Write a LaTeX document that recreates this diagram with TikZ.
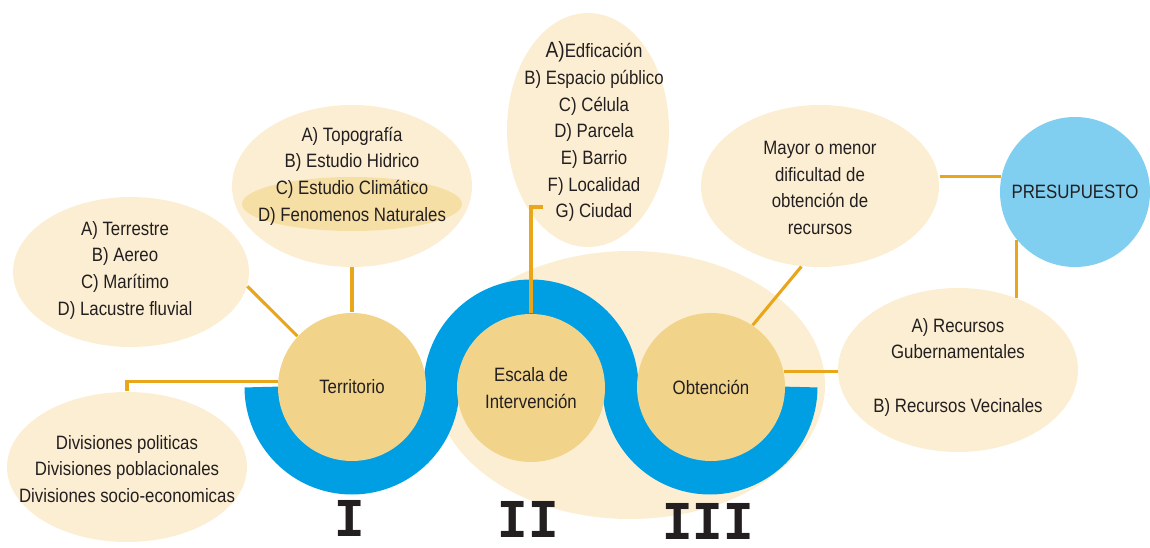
\documentclass[tikz,border=0pt]{standalone}
\usepackage{fontspec}
\setmainfont{Liberation Sans}[FakeStretch=0.87]
\newfontfamily\numfont{Liberation Mono}
\usetikzlibrary{shapes.geometric}

\definecolor{creamlight}{RGB}{252,238,210}
\definecolor{creamband}{RGB}{246,223,165}
\definecolor{stagefill}{RGB}{242,211,138}
\definecolor{waveblue}{RGB}{0,159,227}
\definecolor{skyblue}{RGB}{128,206,240}
\definecolor{connorange}{RGB}{234,166,27}
\definecolor{inktext}{RGB}{35,31,32}

\tikzset{every picture/.style={line width=0.75pt},
  bubble/.style={ellipse, fill=creamlight, inner sep=0pt},
  stage/.style={circle, fill=stagefill, minimum size=111pt, inner sep=0pt},
  txt/.style={align=center, text=inktext, font=\fontsize{14.5}{20}\selectfont, inner sep=0pt},
  conn/.style={draw=connorange, line width=2.3pt},
  wave/.style={draw=waveblue, line width=27pt},
  numeral/.style={text=inktext, font=\numfont\bfseries\fontsize{38}{40}\selectfont, inner sep=0pt}
}

\begin{document}
\begin{tikzpicture}[x=0.75pt,y=0.75pt,yscale=-1,xscale=1]
\useasboundingbox (0,0) rectangle (1150,548);

%Shape: Ellipse (background)
\fill[creamlight] (630,385) ellipse [x radius=195, y radius=134];

%Shape: Wave
\draw[wave] (262.5,387) arc [start angle=180, end angle=0, radius=89.5]
  arc [start angle=180, end angle=360, radius=89.5]
  arc [start angle=180, end angle=0, radius=89.5];

%Stages
\node[stage, txt] (territorio) at (352,387) {Territorio};
\node[stage, txt] (escala) at (531,388) {Escala de\\Intervención};
\node[stage, txt] (obtencion) at (711,387) {Obtención};

%Bubbles
\node[bubble, minimum width=177pt, minimum height=112.5pt] (terrestre) at (131,272) {};
\node[txt] (terrestretxt) at (125,270) {A) Terrestre\\B) Aereo\\C) Marítimo\\D) Lacustre fluvial};

\node[bubble, minimum width=180pt, minimum height=121.5pt] (topografia) at (352,186) {};
\fill[creamband] (352,204) ellipse [x radius=110, y radius=27];
\node[txt] (topografiatxt) at (352,176) {A) Topografía\\B) Estudio Hidrico\\C) Estudio Climático\\D) Fenomenos Naturales};

\node[bubble, minimum width=121.5pt, minimum height=175.5pt] (edificacion) at (588,130) {};
\node[txt] (edificaciontxt) at (594,132) {{\fontsize{16.5}{20}\selectfont A)}Edficación\\B) Espacio público\\C) Célula\\D) Parcela\\E) Barrio\\F) Localidad\\G) Ciudad};

\node[bubble, minimum width=178.5pt, minimum height=121.5pt] (mayor) at (820,186) {};
\node[txt] (mayortxt) at (820,188) {Mayor o menor\\dificultad de\\obtención de\\recursos};

\node[bubble, minimum width=180pt, minimum height=123pt] (recursos) at (958,370) {};
\node[txt] (recursostxt) at (958,367) {A) Recursos\\Gubernamentales\\[20pt]B) Recursos Vecinales};

\node[bubble, minimum width=180pt, minimum height=112.5pt] (divisiones) at (127,467) {};
\node[txt] (divisionestxt) at (127,469) {Divisiones politicas\\Divisiones poblacionales\\Divisiones socio-economicas};

\node[circle, fill=skyblue, minimum size=112.5pt, txt] (presupuesto) at (1075,192) {PRESUPUESTO};

%Connectors
\coordinate (escalahook) at (543,207);
\draw[conn] (terrestre.-7) -- (territorio.137);
\draw[conn] (topografia.south) -- (territorio.north);
\draw[conn] (escalahook) -| (escala.north);
\draw[conn] (mayor.257) -- (obtencion.56);
\draw[conn] (mayor.east |- presupuesto.168) -- (presupuesto.168);
\draw[conn] (presupuesto.219) -- (presupuesto.219 |- recursos.50);
\draw[conn] (obtencion.12) -- (recursos.west |- obtencion.12);
\draw[conn] (territorio.176) -| (divisiones.north);

%Numerals
\node[numeral] (numi) at (350,518) {\scalebox{1}[1.08]{I}};
\node[numeral] (numii) at (528,519) {\scalebox{1}[1.08]{II}};
\node[numeral] (numiii) at (708,521) {\scalebox{1}[1.08]{III}};

\end{tikzpicture}
\end{document}
